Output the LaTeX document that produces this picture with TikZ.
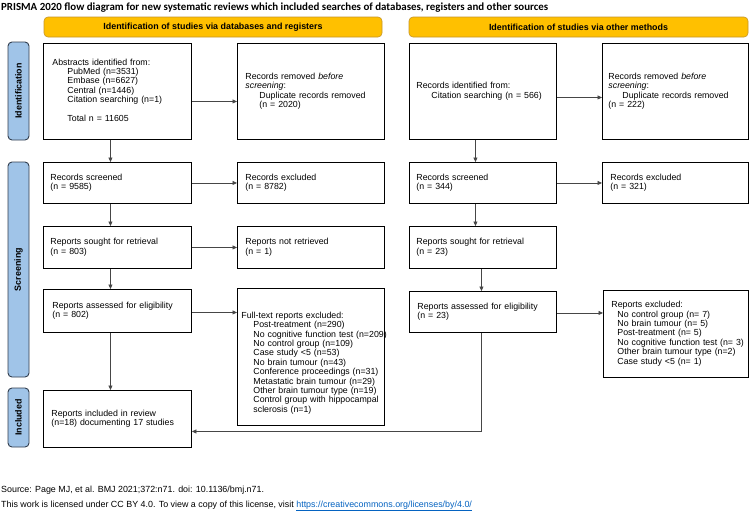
\documentclass[tikz,border=0pt]{standalone}
\usepackage{fontspec}
\setmainfont{Liberation Sans}
\newfontfamily\carlito{Carlito}
\usetikzlibrary{arrows.meta}
\definecolor{tabblue}{RGB}{160,196,232}
\definecolor{tabedge}{RGB}{50,62,78}
\definecolor{hdryellow}{RGB}{255,192,0}
\definecolor{hdredge}{RGB}{196,148,40}
\definecolor{linkblue}{RGB}{5,99,193}
\definecolor{conn}{RGB}{70,70,70}
\newcommand\ind[1][14pt]{\hspace*{#1}}
\newcommand\lines[1]{\begin{tabular}{@{}l@{}}#1\end{tabular}}
\begin{document}
\begin{tikzpicture}[x=1pt,y=-1pt,
  box/.style={draw=black, line width=0.9pt, anchor=north west, inner ysep=0pt,
    font=\fontsize{8.8}{9.4}\selectfont},
  tab/.style={draw=tabedge, fill=tabblue, line width=0.9pt, rounded corners=4pt,
    rotate=90, minimum height=21pt, inner sep=0pt, font=\bfseries\fontsize{8.9}{10}\selectfont},
  hdr/.style={draw=hdredge, fill=hdryellow, line width=0.6pt, rounded corners=4pt,
    minimum height=20pt, inner sep=0pt, font=\bfseries\fontsize{8.9}{10}\selectfont},
  arr/.style={draw=conn, line width=0.8pt, -{Triangle[length=4.5pt,width=4pt]}},
  foot/.style={anchor=west, inner sep=0pt, font=\fontsize{8.9}{10}\selectfont}
]
\useasboundingbox[fill=white] (0,0) rectangle (751,512);

% title
\node[anchor=west, inner sep=0pt, font=\carlito\bfseries\fontsize{10.9}{12}\selectfont] (title) at (1,8)
  {PRISMA 2020 flow diagram for new systematic reviews which included searches of databases, registers and other sources};

% headers
\node[hdr, minimum width=338pt] (h1) at (213,27) {Identification of studies via databases and registers};
\node[hdr, minimum width=339pt] (h2) at (578.5,27) {Identification of studies via other methods};

% phase tabs
\node[tab, minimum width=98pt] (tid) at (18.5,91) {Identification};
\node[tab, minimum width=215pt] (tsc) at (18.5,269.5) {Screening};
\node[tab, minimum width=59pt] (tin) at (18.5,417.5) {Included};

% row 1
\node[box, minimum width=148pt, minimum height=96pt, text width=130pt, inner xsep=9pt] (b1) at (43,43)
  {\lines{Abstracts identified from:\\ \ind[15pt]PubMed (n=3531)\\ \ind[15pt]Embase (n=6627)\\ \ind[15pt]Central (n=1446)\\ \ind[15pt]Citation searching (n=1)\\ \\ \ind[15pt]Total n = 11605}};
\node[box, minimum width=147pt, minimum height=96pt, text width=131pt, inner xsep=8pt] (b2) at (237,43)
  {\lines{Records removed \textit{before}\\ \textit{screening}:\\ \ind Duplicate records removed\\ \ind (n = 2020)}};
\node[box, minimum width=147pt, minimum height=96pt, text width=133pt, inner xsep=7pt] (b3) at (409,43)
  {\lines{Records identified from:\\ \ind[15pt]Citation searching (n = 566)}};
\node[box, minimum width=146pt, minimum height=96pt, text width=134pt, inner xsep=6pt] (b4) at (602,43)
  {\lines{Records removed \textit{before}\\ \textit{screening}:\\ \ind Duplicate records removed\\ (n = 222)}};

% row 2
\node[box, minimum width=148pt, minimum height=41pt, text width=134pt, inner xsep=7pt] (s1) at (43,162)
  {\lines{Records screened\\ (n = 9585)}};
\node[box, minimum width=147pt, minimum height=41pt, text width=131pt, inner xsep=8pt] (s2) at (237,162)
  {\lines{Records excluded\\ (n = 8782)}};
\node[box, minimum width=147pt, minimum height=41pt, text width=133pt, inner xsep=7pt] (s3) at (409,162)
  {\lines{Records screened\\ (n = 344)}};
\node[box, minimum width=146pt, minimum height=41pt, text width=130pt, inner xsep=8pt] (s4) at (602,162)
  {\lines{Records excluded\\ (n = 321)}};

% row 3
\node[box, minimum width=148pt, minimum height=42pt, text width=134pt, inner xsep=7pt] (r1) at (43,226)
  {\lines{Reports sought for retrieval\\ (n = 803)}};
\node[box, minimum width=147pt, minimum height=42pt, text width=131pt, inner xsep=8pt] (r2) at (237,226)
  {\lines{Reports not retrieved\\ (n = 1)}};
\node[box, minimum width=147pt, minimum height=42pt, text width=133pt, inner xsep=7pt] (r3) at (409,226)
  {\lines{Reports sought for retrieval\\ (n = 23)}};

% row 4
\node[box, minimum width=148pt, minimum height=43pt, text width=130pt, inner xsep=9pt] (e1) at (43,289)
  {\lines{Reports assessed for eligibility\\ (n = 802)}};
\node[box, minimum width=147pt, minimum height=137pt, text width=139pt, inner xsep=4pt] (f1) at (237,288)
  {\lines{\rule{0pt}{19.5pt}Full-text reports excluded:\\ \ind[12pt]Post-treatment (n=290)\\ \ind[12pt]No cognitive function test (n=209)\\ \ind[12pt]No control group (n=109)\\ \ind[12pt]Case study <5 (n=53)\\ \ind[12pt]No brain tumour (n=43)\\ \ind[12pt]Conference proceedings (n=31)\\ \ind[12pt]Metastatic brain tumour (n=29)\\ \ind[12pt]Other brain tumour type (n=19)\\ \ind[12pt]Control group with hippocampal\\ \ind[12pt]sclerosis (n=1)}};
\node[box, minimum width=147pt, minimum height=41pt, text width=131pt, inner xsep=8pt] (e3) at (409,291)
  {\lines{Reports assessed for eligibility\\ (n = 23)}};
\node[box, minimum width=145pt, minimum height=87pt, text width=129pt, inner xsep=8pt] (x3) at (603,290)
  {\lines{Reports excluded:\\ \ind[6pt]No control group (n= 7)\\ \ind[6pt]No brain tumour (n= 5)\\ \ind[6pt]Post-treatment (n= 5)\\ \ind[6pt]No cognitive function test (n= 3)\\ \ind[6pt]Other brain tumour type (n=2)\\ \ind[6pt]Case study <5 (n= 1)}};

% row 5
\node[box, minimum width=148pt, minimum height=57pt, text width=132pt, inner xsep=8pt] (inc) at (43,390)
  {\lines{Reports included in review\\ (n=18) documenting 17 studies}};

% connectors
\draw[arr] ([yshift=-10pt]b1.east) -- ([yshift=-10pt]b2.west);
\draw[arr] ([yshift=-6pt]b3.east) -- ([yshift=-6pt]b4.west);
\draw[arr] ([xshift=-7pt]b1.south) -- ([xshift=-7pt]s1.north);
\draw[arr] ([xshift=-7.5pt]b3.south) -- ([xshift=-7.5pt]s3.north);
\draw[arr] (s1.east) -- (s2.west);
\draw[arr] (s3.east) -- (s4.west);
\draw[arr] ([xshift=-7pt]s1.south) -- ([xshift=-7pt]r1.north);
\draw[arr] ([xshift=-7.5pt]s3.south) -- ([xshift=-7.5pt]r3.north);
\draw[arr] (r1.east) -- (r2.west);
\draw[arr] ([xshift=-7pt]r1.south) -- ([xshift=-7pt]e1.north);
\draw[arr] ([xshift=-1.5pt]r3.south) -- ([xshift=-1.5pt]e3.north);
\coordinate (pe1) at ([yshift=-1.5pt]e1.east);
\draw[arr] (pe1) -- (pe1 -| f1.west);
\coordinate (pe3) at ([yshift=-1pt]e3.east);
\draw[arr] (pe3) -- (pe3 -| x3.west);
\draw[arr] ([xshift=-7pt]e1.south) -- ([xshift=-7pt]inc.north);
\draw[arr] ([xshift=-1.5pt]e3.south) |- ([yshift=-12.5pt]inc.east);

% footer
\node[foot] (src) at (1,490) {Source: Page MJ, et al. BMJ 2021;372:n71. doi: 10.1136/bmj.n71.};
\node[foot] (lic) at (1,506) {This work is licensed under CC BY 4.0. To view a copy of this license, visit \textcolor{linkblue}{\underline{https://creativecommons.org/licenses/by/4.0/}}};
\end{tikzpicture}
\end{document}
